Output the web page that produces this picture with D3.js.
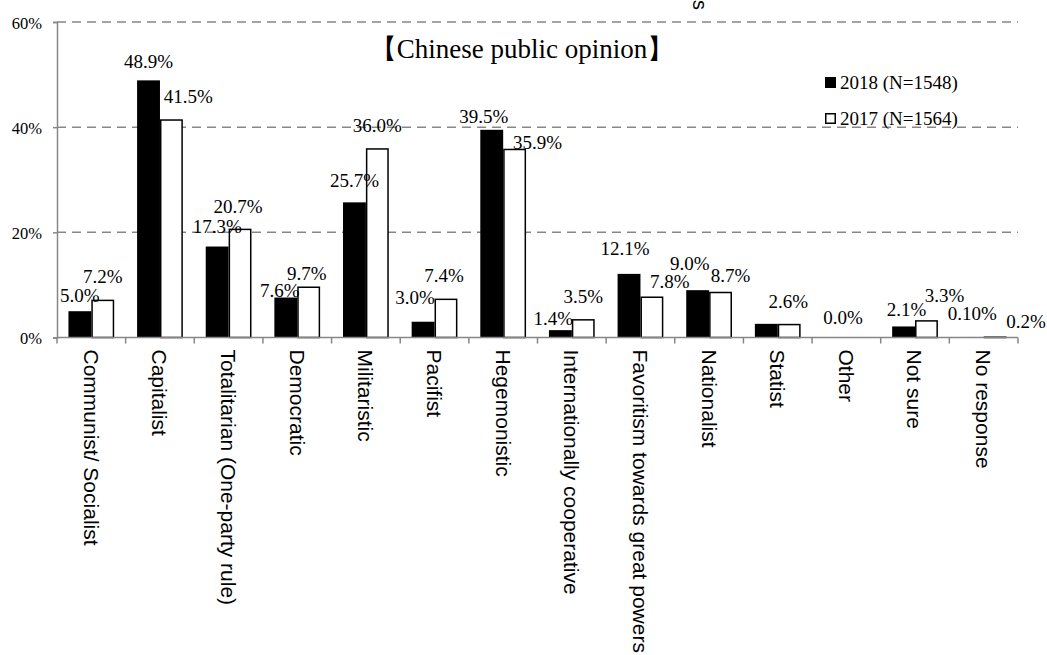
<!DOCTYPE html>
<html>
<head>
<meta charset="utf-8">
<script src="https://cdn.jsdelivr.net/npm/d3@7"></script>
<style>
  html, body { margin: 0; padding: 0; background: #fff; }
  svg { display: block; }
  .serif { font-family: "Liberation Serif", "Times New Roman", Times, serif; }
  .sans { font-family: "Liberation Sans", Arial, Helvetica, sans-serif; }
</style>
</head>
<body>
<svg id="chart" width="1047" height="655"></svg>
<script>
// Perceptions of Japan: Chinese public opinion, 2018 vs 2017
const categories = [
  "Communist/ Socialist", "Capitalist", "Totalitarian (One-party rule)", "Democratic",
  "Militaristic", "Pacifist", "Hegemonistic", "Internationally cooperative",
  "Favoritism towards great powers", "Nationalist", "Statist", "Other",
  "Not sure", "No response"
];
const seriesNames = ["2018 (N=1548)", "2017 (N=1564)"];
const values2018 = [5.0, 48.9, 17.3, 7.6, 25.7, 3.0, 39.5, 1.4, 12.1, 9.0, 2.6, 0.0, 2.1, 0.1];
const values2017 = [7.2, 41.5, 20.7, 9.7, 36.0, 7.4, 35.9, 3.5, 7.8, 8.7, 2.6, 0.0, 3.3, 0.2];
const yTicks = [0, 20, 40, 60];

const seriesValues = [values2018, values2017];
const rows = categories.map((c, i) => ({ cat: c, i, vals: seriesValues.map(s => s[i]) }));

// label placement: [dx from bar centre, dy of baseline from bar top], null = not shown
const labelOffsets = [
  [[0,-9],[0,-12],[0,-14],[-6,-1],[0,-15],[-8,-18],[-8,-7],[-7,-5],[-4,-19],[-8,-20],null,[8,-14],[3,-10],[0,-17]],
  [[0,-17],[17,-16],[-2,-16],[-2,-6],[0,-16],[-2,-17],[23,0],[0,-16],[18,-8],[10,-10],[-1,-16],null,[18,-18],[31,-8]]
];
const labelDecimals = [[1,1,1,1,1,1,1,1,1,1,1,1,1,2],[1,1,1,1,1,1,1,1,1,1,1,1,1,1]];

const svg = d3.select("#chart");
const margin = { left: 57, right: 29, top: 22, bottom: 317.5 };
const W = 1047, H = 655;
const plotW = W - margin.left - margin.right;
const plotBottom = H - margin.bottom;

const x0 = d3.scaleBand().domain(categories).range([margin.left, margin.left + plotW]).paddingInner(0).paddingOuter(0);
const x1 = d3.scaleBand().domain([0, 1]).range([0, x0.bandwidth()]).paddingInner(0).paddingOuter(0.5);
const y = d3.scaleLinear().domain([0, 60]).range([plotBottom, margin.top]);

const grey = "#878787";

// gridlines
svg.append("g")
  .selectAll("line")
  .data(yTicks.filter(t => t > 0))
  .join("line")
  .attr("x1", margin.left).attr("x2", margin.left + plotW)
  .attr("y1", d => y(d)).attr("y2", d => y(d))
  .attr("stroke", grey).attr("stroke-width", 1.5)
  .attr("stroke-dasharray", "9,6");

// y axis
const yAxis = svg.append("g")
  .attr("transform", `translate(${margin.left},0)`)
  .call(d3.axisLeft(y).tickValues(yTicks).tickSize(4).tickPadding(11).tickFormat(d => d + "%"));
yAxis.attr("font-family", null).attr("font-size", null);
yAxis.select(".domain").attr("stroke", grey).attr("stroke-width", 1.5);
yAxis.selectAll(".tick line").attr("stroke", grey).attr("stroke-width", 1.5);
yAxis.selectAll(".tick text")
  .attr("class", "serif").style("font-size", "16.5px").attr("fill", "#000").attr("dy", "0.38em");

// bars
const groups = svg.append("g").selectAll("g")
  .data(rows).join("g")
  .attr("transform", d => `translate(${x0(d.cat)},0)`);

groups.selectAll("rect")
  .data(d => d.vals.map((v, s) => ({ v, s })))
  .join("rect")
  .attr("x", d => x1(d.s) + (d.s === 1 ? 0.75 : 0))
  .attr("width", d => x1.bandwidth() - (d.s === 1 ? 1.5 : 0))
  .attr("y", d => y(d.v) + (d.s === 1 ? 0.75 : 0))
  .attr("height", d => Math.max(0, plotBottom - y(d.v) - (d.s === 1 ? 0.75 : 0)))
  .attr("fill", d => d.s === 0 ? "#000" : "#fff")
  .attr("stroke", d => d.s === 1 ? "#000" : "none")
  .attr("stroke-width", 1.5);

// x axis
const xAxisG = svg.append("g").attr("transform", `translate(0,${plotBottom})`);
xAxisG.append("line")
  .attr("x1", margin.left).attr("x2", margin.left + plotW)
  .attr("stroke", grey).attr("stroke-width", 1.5);
const boundaries = categories.map(c => x0(c)).concat([margin.left + plotW]);
xAxisG.selectAll("line.tk")
  .data(boundaries).join("line").attr("class", "tk")
  .attr("x1", d => d).attr("x2", d => d).attr("y1", 0).attr("y2", 6)
  .attr("stroke", grey).attr("stroke-width", 1.5);

// category labels, rotated
svg.append("g").selectAll("text")
  .data(categories).join("text")
  .attr("class", "sans")
  .attr("transform", d => `translate(${x0(d) + x0.bandwidth() / 2},${plotBottom + 12}) rotate(90)`)
  .attr("dy", "0.36em")
  .style("font-size", "21px").attr("fill", "#000")
  .text(d => d);

// value labels
const labels = [];
rows.forEach(r => r.vals.forEach((v, s) => {
  const off = labelOffsets[s][r.i];
  if (!off) return;
  labels.push({ v, s, i: r.i, cat: r.cat, off });
}));
svg.append("g").selectAll("text")
  .data(labels).join("text")
  .attr("class", "serif")
  .attr("x", d => x0(d.cat) + x1(d.s) + x1.bandwidth() / 2 + d.off[0])
  .attr("y", d => y(d.v) + d.off[1])
  .attr("text-anchor", "middle")
  .style("font-size", "19px").attr("fill", "#000")
  .text(d => d.v.toFixed(labelDecimals[d.s][d.i]) + "%");

// title
svg.append("text")
  .attr("class", "serif")
  .attr("x", 522).attr("y", 58)
  .attr("text-anchor", "middle")
  .style("font-size", "27px").attr("fill", "#000")
  .text("【Chinese public opinion】");

// legend
const legend = svg.append("g").attr("transform", "translate(825,77)");
seriesNames.forEach((name, s) => {
  const g = legend.append("g").attr("transform", `translate(0,${s * 36})`);
  g.append("rect")
    .attr("x", s === 1 ? 0.75 : 0).attr("y", s === 1 ? 0.75 : 0)
    .attr("width", s === 1 ? 9.5 : 11).attr("height", s === 1 ? 9.5 : 11)
    .attr("fill", s === 0 ? "#000" : "#fff")
    .attr("stroke", s === 1 ? "#000" : "none").attr("stroke-width", 1.5);
  g.append("text")
    .attr("class", "serif")
    .attr("x", 15).attr("y", 12)
    .style("font-size", "19px").attr("fill", "#000")
    .text(name);
});

// clipped tail of a rotated label at the top edge
svg.append("text")
  .attr("class", "sans")
  .attr("transform", "translate(693,10) rotate(90)")
  .attr("text-anchor", "end")
  .style("font-size", "20px").attr("fill", "#000")
  .text("s");
</script>
</body>
</html>
